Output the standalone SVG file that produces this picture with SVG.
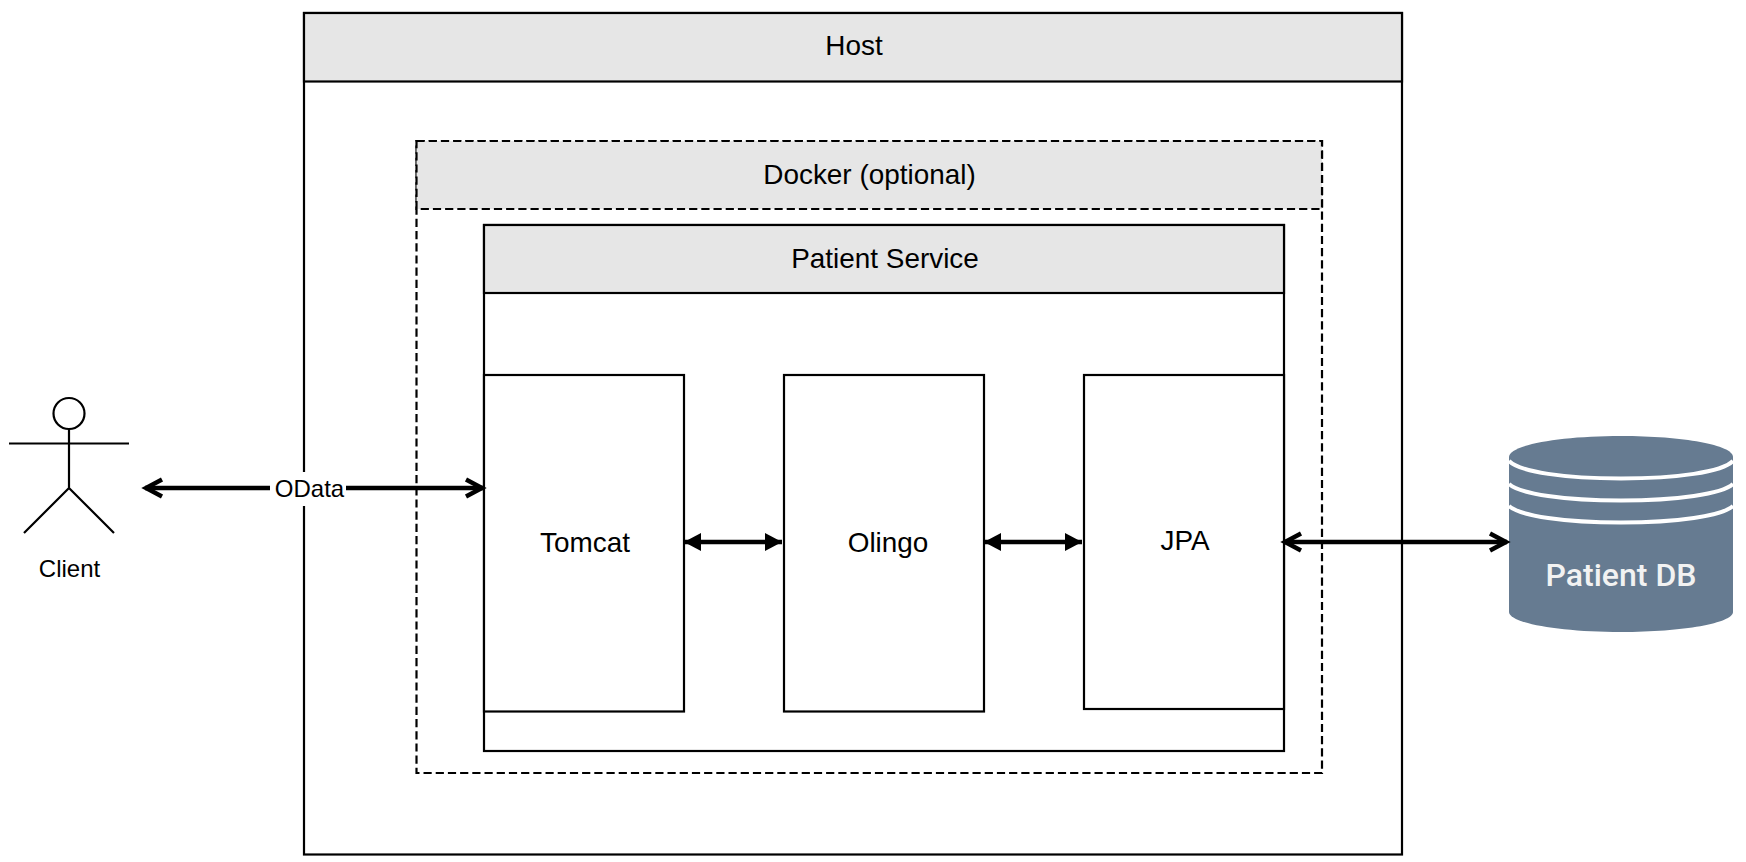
<svg xmlns="http://www.w3.org/2000/svg" width="1746" height="862" viewBox="0 0 1746 862">
<style>
.box{fill:#fff;stroke:#000;stroke-width:2.2}
.hdr{fill:#e6e6e6;stroke:#000;stroke-width:2.2}
.dash{stroke-dasharray:8.2 4}
.lbl{font-family:"Liberation Sans",Arial,sans-serif;font-size:27.9px;fill:#000;text-anchor:middle}
.sm{font-size:24px}
.link{fill:none;stroke:#000;stroke-width:4.4}
.actor{fill:none;stroke:#000;stroke-width:2.2}
.band{fill:none;stroke:#fff;stroke-width:4}
</style>
<defs>
<marker id="open" markerUnits="userSpaceOnUse" markerWidth="24" markerHeight="28" refX="20" refY="14" orient="auto-start-reverse" overflow="visible"><path d="M3 5.500L19 14L3 22.500" fill="none" stroke="#000" stroke-width="4.400"/></marker>
<marker id="block" markerUnits="userSpaceOnUse" markerWidth="20" markerHeight="20" refX="17" refY="10" orient="auto-start-reverse"><path d="M0 1L17 10L0 19Z" fill="#000"/></marker>
</defs>
<rect width="1746" height="862" fill="#fff"/>
<g id="host"><rect class="box" x="304" y="13" width="1098" height="841.500"/><rect class="hdr" x="304" y="13" width="1098" height="68.500"/><text class="lbl" x="854" y="55">Host</text></g>
<g id="docker"><rect class="box dash" x="416.500" y="141" width="905.500" height="632"/><rect class="hdr dash" x="416.500" y="141" width="905.500" height="68"/><text class="lbl" x="869.500" y="184">Docker (optional)</text></g>
<g id="patient-service"><rect class="box" x="484" y="225" width="800" height="526"/><rect class="hdr" x="484" y="225" width="800" height="68"/><text class="lbl" x="885" y="268">Patient Service</text></g>
<g id="tomcat"><rect class="box" x="484" y="375" width="200" height="336.500"/><text class="lbl" x="585" y="552">Tomcat</text></g>
<g id="olingo"><rect class="box" x="784" y="375" width="200" height="336.500"/><text class="lbl" x="888" y="552">Olingo</text></g>
<g id="jpa"><rect class="box" x="1084" y="375" width="200" height="334"/><text class="lbl" x="1185" y="550">JPA</text></g>
<g id="client">
<circle class="actor" cx="69" cy="413.500" r="15.500"/>
<path class="actor" d="M69 429V488M9 443.500H129M24 533L69 488L114 533"/>
<text class="lbl sm" x="69.500" y="577">Client</text>
</g>
<g id="patient-db">
<path d="M1509 457C1509 445 1559 436 1621 436C1683 436 1733 445 1733 457V612C1733 623 1683 632 1621 632C1559 632 1509 623 1509 612Z" fill="#667b91"/>
<path class="band" d="M1509 461C1520 472 1565 478.500 1621 478.500C1677 478.500 1722 472 1733 461"/>
<path class="band" d="M1509 484C1520 494 1565 500.500 1621 500.500C1677 500.500 1722 494 1733 484"/>
<path class="band" d="M1509 506C1520 516 1565 522.500 1621 522.500C1677 522.500 1722 516 1733 506"/>
<text x="1621" y="586" text-anchor="middle" font-family="Roboto,sans-serif" font-weight="500" font-size="32" fill="#f2f2f2">Patient DB</text>
</g>
<g id="connectors">
<path class="link" d="M145 488H483" marker-start="url(#open)" marker-end="url(#open)"/>
<path class="link" d="M684 542H782" marker-start="url(#block)" marker-end="url(#block)"/>
<path class="link" d="M984 542H1082" marker-start="url(#block)" marker-end="url(#block)"/>
<path class="link" d="M1284 542H1507" marker-start="url(#open)" marker-end="url(#open)"/>
<g id="odata-label"><rect x="270" y="472" width="76" height="34" fill="#fff"/><text class="lbl sm" x="309.500" y="497">OData</text></g>
</g>
</svg>
